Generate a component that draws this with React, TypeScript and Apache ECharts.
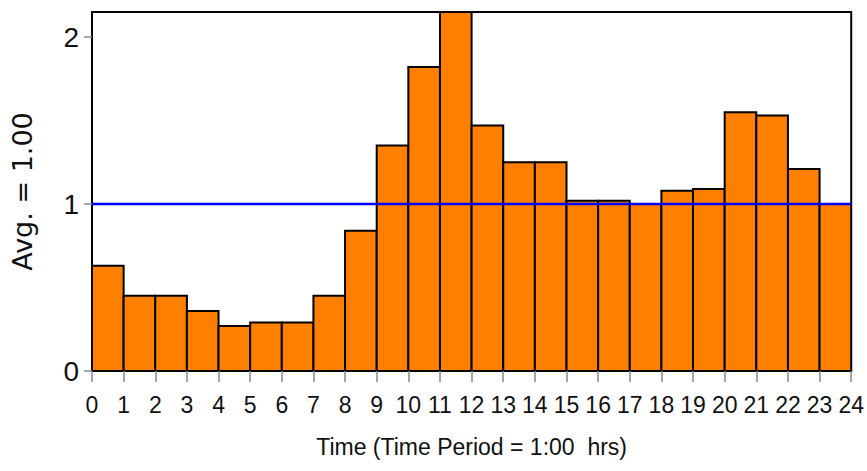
import React, { useEffect, useRef } from "react";
import * as echarts from "echarts";

// Hourly index values (hour start -> value)
const hourStarts = [0, 1, 2, 3, 4, 5, 6, 7, 8, 9, 10, 11, 12, 13, 14, 15, 16, 17, 18, 19, 20, 21, 22, 23];
const values = [0.63, 0.45, 0.45, 0.36, 0.27, 0.29, 0.29, 0.45, 0.84, 1.35, 1.82, 2.15, 1.47, 1.25, 1.25, 1.02, 1.02, 1.0, 1.08, 1.09, 1.55, 1.53, 1.21, 1.0];
const averageLevel = 1.0;
const xRange = [0, 24];
const yRange = [0, 2.15];

const xTitle = "Time (Time Period = 1:00  hrs)";
const yTitle = "Avg. = 1.00";

export default function App() {
  const ref = useRef<HTMLDivElement>(null);

  useEffect(() => {
    document.body.style.margin = "0";
    if (!ref.current) return;
    const chart = echarts.init(ref.current, null, { renderer: "svg" });
    const sans = "'Liberation Sans', Arial, sans-serif";
    const option: any = {
      animation: false,
      backgroundColor: "#ffffff",
      grid: {
        left: 92,
        right: 12,
        top: 12,
        bottom: 100,
        show: true,
        borderColor: "#000",
        borderWidth: 2,
        backgroundColor: "transparent",
      },
      xAxis: {
        type: "value",
        min: xRange[0],
        max: xRange[1],
        interval: 1,
        name: xTitle,
        nameLocation: "middle",
        nameGap: 64,
        nameTextStyle: { fontFamily: sans, fontSize: 23, color: "#111" },
        axisLine: { show: true, lineStyle: { color: "#000", width: 2 } },
        axisTick: { show: true, length: 11, lineStyle: { color: "#888", width: 1.5 } },
        axisLabel: { fontFamily: sans, fontSize: 23, color: "#111", margin: 22 },
        splitLine: { show: false },
      },
      yAxis: {
        type: "value",
        min: yRange[0],
        max: yRange[1],
        interval: 1,
        name: yTitle,
        nameLocation: "middle",
        nameRotate: 90,
        nameGap: 56,
        nameTextStyle: { fontFamily: "'DejaVu Sans', sans-serif", fontSize: 27, color: "#111" },
        axisLine: { show: true, lineStyle: { color: "#000", width: 2 } },
        axisTick: { show: true, length: 8, lineStyle: { color: "#888", width: 1.5 } },
        axisLabel: { fontFamily: sans, fontSize: 28, color: "#111", margin: 13, showMaxLabel: false },
        splitLine: { show: false },
      },
      series: [
        {
          type: "custom",
          clip: true,
          data: hourStarts.map((h, i) => [h, h + 1, values[i]]),
          encode: { x: [0, 1], y: 2 },
          renderItem: (params: any, api: any) => {
            const topLeft = api.coord([api.value(0), api.value(2)]);
            const bottomRight = api.coord([api.value(1), 0]);
            return {
              type: "rect",
              shape: {
                x: topLeft[0],
                y: topLeft[1],
                width: bottomRight[0] - topLeft[0],
                height: bottomRight[1] - topLeft[1],
              },
              style: { fill: "#FF8000", stroke: "#000", lineWidth: 2 },
            };
          },
          z: 2,
        },
        {
          type: "line",
          data: [
            [xRange[0], averageLevel],
            [xRange[1], averageLevel],
          ],
          symbol: "none",
          lineStyle: { color: "#0000FF", width: 2.5 },
          z: 5,
        },
      ],
    };
    chart.setOption(option);
    return () => chart.dispose();
  }, []);

  return (
    <div
      ref={ref}
      style={{ position: "absolute", left: 0, top: 0, width: 867, height: 471 }}
    />
  );
}
